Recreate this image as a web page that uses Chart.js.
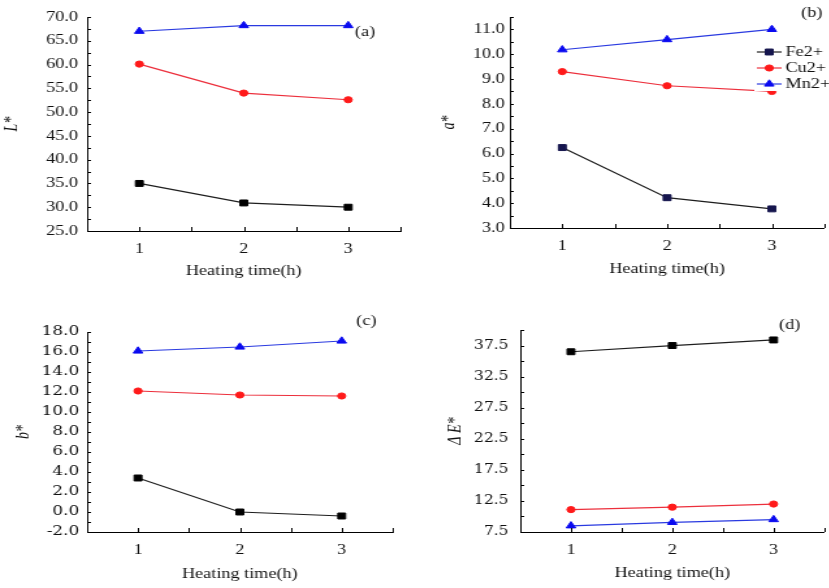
<!DOCTYPE html>
<html>
<head>
<meta charset="utf-8">
<script src="https://cdn.jsdelivr.net/npm/chart.js@4.4.0/dist/chart.umd.min.js"></script>
<style>
  html, body { margin: 0; padding: 0; background: #fff; overflow: hidden; width: 829px; height: 588px; }
  /* the source figure is stretched sideways, so each panel is drawn narrow and widened */
  .panel { position: absolute; transform: scaleX(1.3); transform-origin: 0 0; }
</style>
</head>
<body>
<div class="panel" style="left:0;top:0"><canvas id="chartA" width="320" height="290"></canvas></div>
<div class="panel" style="left:415px;top:0"><canvas id="chartB" width="320" height="290"></canvas></div>
<div class="panel" style="left:0;top:300px"><canvas id="chartC" width="320" height="288"></canvas></div>
<div class="panel" style="left:415px;top:300px"><canvas id="chartD" width="320" height="288"></canvas></div>
<script>
const hours = [1, 2, 3];
const ions = ['Fe2+', 'Cu2+', 'Mn2+'];

// L*
const lFe = [35.0, 30.9, 30.0];
const lCu = [60.1, 54.0, 52.6];
const lMn = [67.0, 68.2, 68.2];
const lTicks = [25, 30, 35, 40, 45, 50, 55, 60, 65, 70];

// a*
const aFe = [6.24, 4.22, 3.77];
const aCu = [9.30, 8.73, 8.50];
const aMn = [10.18, 10.59, 11.0];
const aTicks = [3, 4, 5, 6, 7, 8, 9, 10, 11];

// b*
const bFe = [3.4, 0.0, -0.4];
const bCu = [12.1, 11.7, 11.6];
const bMn = [16.1, 16.5, 17.1];
const bTicks = [-2, 0, 2, 4, 6, 8, 10, 12, 14, 16, 18];

// delta E*
const eFe = [36.5, 37.5, 38.4];
const eCu = [11.1, 11.5, 12.0];
const eMn = [8.5, 9.05, 9.5];
const eTicks = [7.5, 12.5, 17.5, 22.5, 27.5, 32.5, 37.5];

const SERIF = "'Liberation Serif', 'Times New Roman', serif";
const INK = '#111';

function toPoints(values) {
    return hours.map((h, i) => ({ x: h, y: values[i] }));
}

function series(label, values, pointColor, lineColor, style, radius) {
    return {
        label: label,
        data: toPoints(values),
        borderColor: lineColor,
        borderWidth: 1.2,
        backgroundColor: pointColor,
        pointBackgroundColor: pointColor,
        pointBorderColor: pointColor,
        pointBorderWidth: 1,
        pointStyle: style,
        pointRadius: radius,
        tension: 0,
        fill: false
    };
}

// short tick marks pointing into the plot, at every label and half way between
const innerTicks = {
    id: 'innerTicks',
    afterDraw(chart) {
        const { ctx, scales: { x, y } } = chart;
        const yv = y.ticks.map(t => t.value);
        const ys = [];
        yv.forEach((v, i) => {
            ys.push(v);
            if (i < yv.length - 1) ys.push((v + yv[i + 1]) / 2);
        });
        if (y.max > yv[yv.length - 1]) ys.push(y.max);
        const xv = x.ticks.map(t => t.value);
        const xs = [];
        xv.forEach((v, i) => {
            xs.push(v);
            if (i < xv.length - 1) xs.push((v + xv[i + 1]) / 2);
        });
        xs.push(x.max);

        ctx.save();
        ctx.strokeStyle = '#000';
        ctx.lineWidth = 1;
        ctx.beginPath();
        ys.forEach(v => {
            const py = Math.round(y.getPixelForValue(v)) + 0.5;
            ctx.moveTo(x.left, py);
            ctx.lineTo(x.left + 3, py);
        });
        xs.forEach(v => {
            const px = Math.round(x.getPixelForValue(v)) + 0.5;
            ctx.moveTo(px, y.bottom);
            ctx.lineTo(px, y.bottom - 4);
        });
        ctx.stroke();
        ctx.restore();
    }
};

// panel letter, and the boxed legend of panel (b)
const panelText = {
    id: 'panelText',
    afterDraw(chart, args, opts) {
        const ctx = chart.ctx;
        ctx.save();
        ctx.fillStyle = INK;
        ctx.font = '14px ' + SERIF;
        ctx.textBaseline = 'middle';
        ctx.fillText(opts.tag, opts.tagX, opts.tagY);

        if (opts.legend) {
            const lg = opts.legend;
            ctx.fillStyle = '#fff';
            ctx.fillRect(lg.boxX, lg.boxY, chart.width - lg.boxX, lg.boxH);
            chart.data.datasets.forEach((ds, i) => {
                const yy = lg.y + i * lg.rowGap;
                ctx.strokeStyle = ds.borderColor;
                ctx.lineWidth = 1.2;
                ctx.beginPath();
                ctx.moveTo(lg.x, yy);
                ctx.lineTo(lg.x + lg.lineLen, yy);
                ctx.stroke();
                ctx.fillStyle = ds.pointBackgroundColor;
                ctx.strokeStyle = ds.pointBorderColor;
                ctx.lineWidth = 1;
                Chart.helpers.drawPoint(ctx, { pointStyle: ds.pointStyle, radius: ds.pointRadius, rotation: 0, borderWidth: 1 }, lg.x + lg.lineLen / 2, yy);
                ctx.fillStyle = INK;
                ctx.fillText(ds.label, lg.x + lg.lineLen + 3, yy);
            });
        }
        ctx.restore();
    }
};

function makeChart(id, p) {
    return new Chart(document.getElementById(id), {
        type: 'line',
        data: {
            datasets: [
                series(ions[0], p.fe, p.feColor, '#1e1e1e', 'rect', 4.2),
                series(ions[1], p.cu, '#ff1a1a', '#ec2f3c', 'circle', 3.1),
                series(ions[2], p.mn, '#0a0af0', '#2a3ae0', 'triangle', 4.2)
            ]
        },
        options: {
            responsive: false,
            animation: false,
            layout: { padding: { left: 0, right: p.right, top: p.top, bottom: 0 } },
            plugins: {
                legend: { display: false },
                tooltip: { enabled: false },
                panelText: p.text
            },
            scales: {
                x: {
                    type: 'linear',
                    min: 0.5,
                    max: 3.5,
                    afterBuildTicks: s => { s.ticks = hours.map(v => ({ value: v })); },
                    afterFit: s => { s.height = p.xh; },
                    ticks: { autoSkip: false, padding: 10, color: INK, font: { family: SERIF, size: 14 }, callback: v => String(v) },
                    grid: { drawOnChartArea: false, drawTicks: false },
                    border: { color: '#000', width: 1 },
                    title: { display: true, text: 'Heating time(h)', color: INK, font: { family: SERIF, size: 14 }, padding: { top: 0, bottom: p.xtPad } }
                },
                y: {
                    min: p.min,
                    max: p.max,
                    afterBuildTicks: s => { s.ticks = p.ticks.map(v => ({ value: v })); },
                    afterFit: s => { s.width = p.yw; },
                    ticks: { autoSkip: false, padding: p.ypad, color: INK, font: p.tickFont, callback: v => v.toFixed(1) },
                    grid: { drawOnChartArea: false, drawTicks: false },
                    border: { color: '#000', width: 1 },
                    title: { display: true, text: p.ytitle, color: INK, font: { family: SERIF, size: 14, style: 'italic' }, padding: { top: p.ytPad, bottom: 0 } }
                }
            }
        },
        plugins: [innerTicks, panelText]
    });
}

makeChart('chartA', {
    fe: lFe, cu: lCu, mn: lMn, feColor: '#000',
    min: 25, max: 70, ticks: lTicks,
    right: 12, top: 17, xh: 59, yw: 67, ypad: 7, xtPad: 10, ytPad: 1,
    ytitle: 'L*', tickFont: { family: SERIF, size: 14 },
    text: { tag: '(a)', tagX: 273, tagY: 32 }
});

makeChart('chartB', {
    fe: aFe, cu: aCu, mn: aMn, feColor: '#16164e',
    min: 3, max: 11.5, ticks: aTicks,
    right: 1, top: 17, xh: 62, yw: 73, ypad: 4, xtPad: 12, ytPad: 18,
    ytitle: 'a*', tickFont: { family: SERIF, size: 14 },
    text: {
        tag: '(b)', tagX: 297, tagY: 13,
        legend: { boxX: 261, boxY: 42, boxH: 49, x: 263, lineLen: 19, y: 52, rowGap: 16 }
    }
});

makeChart('chartC', {
    fe: bFe, cu: bCu, mn: bMn, feColor: '#000',
    min: -2, max: 18, ticks: bTicks,
    right: 18, top: 32, xh: 56, yw: 67, ypad: 6, xtPad: 5, ytPad: 10,
    ytitle: 'b*', tickFont: { family: "'DejaVu Serif', serif", size: 13 },
    text: { tag: '(c)', tagX: 274, tagY: 21 }
});

makeChart('chartD', {
    fe: eFe, cu: eCu, mn: eMn, feColor: '#000',
    min: 7.5, max: 40, ticks: eTicks,
    right: 1, top: 30, xh: 56, yw: 81, ypad: 9, xtPad: 6, ytPad: 23,
    ytitle: 'Δ E*', tickFont: { family: "'DejaVu Serif', serif", size: 12 },
    text: { tag: '(d)', tagX: 280, tagY: 25 }
});
</script>
</body>
</html>
